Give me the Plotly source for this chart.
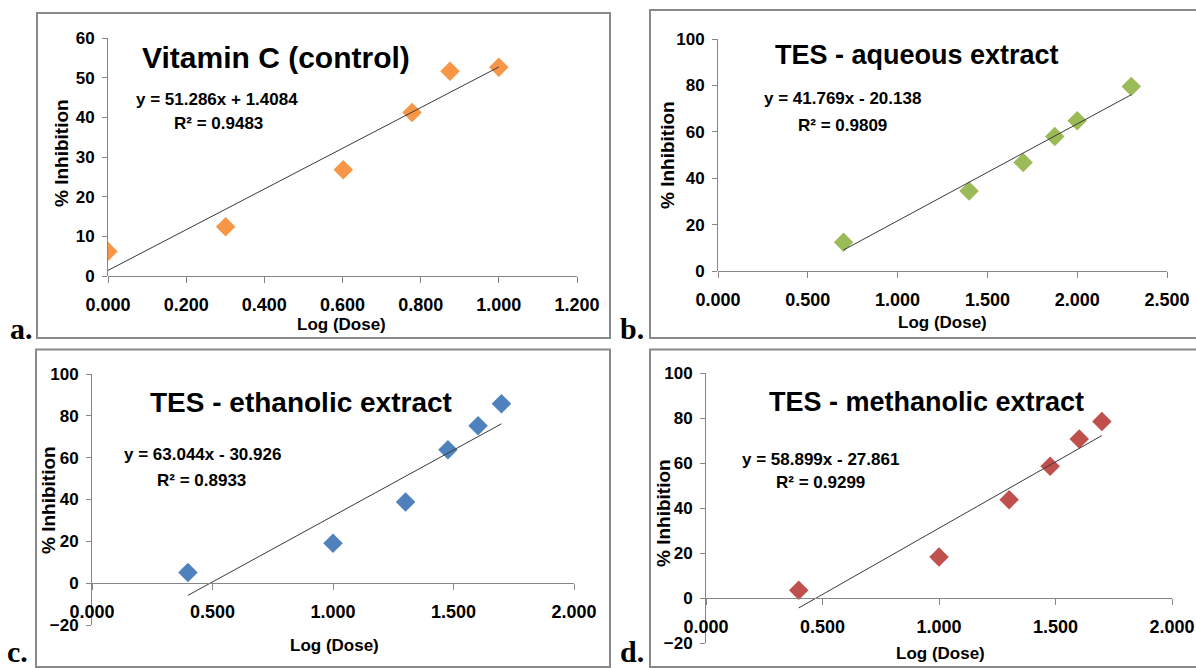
import plotly.graph_objects as go

W, H = 1196, 668

# ---------------- data ----------------
a_dose = [0.000, 0.301, 0.602, 0.778, 0.875, 1.000]
a_inhib = [6.2, 12.4, 26.8, 41.2, 51.6, 52.6]
b_dose = [0.699, 1.398, 1.699, 1.875, 2.000, 2.301]
b_inhib = [12.4, 34.5, 46.8, 58.0, 64.8, 79.5]
c_dose = [0.398, 1.000, 1.301, 1.477, 1.602, 1.699]
c_inhib = [5.1, 19.1, 38.8, 63.8, 75.3, 85.8]
d_dose = [0.398, 1.000, 1.301, 1.477, 1.602, 1.699]
d_inhib = [3.4, 18.2, 43.7, 58.5, 70.7, 78.4]

titles = ["Vitamin C (control)", "TES - aqueous extract",
          "TES - ethanolic extract", "TES - methanolic extract"]
slopes = [51.286, 41.769, 63.044, 58.899]
intercepts = [1.4084, -20.138, -30.926, -27.861]
equations = ["y = 51.286x + 1.4084", "y = 41.769x - 20.138",
             "y = 63.044x - 30.926", "y = 58.899x - 27.861"]
r2_labels = ["R² = 0.9483", "R² = 0.9809", "R² = 0.8933", "R² = 0.9299"]
panel_letters = ["a.", "b.", "c.", "d."]
colors = ["#F79646", "#9BBB59", "#4F81BD", "#C0504D"]
x_ranges = [[0, 1.2], [0, 2.5], [0, 2.0], [0, 2.0]]
x_dticks = [0.2, 0.5, 0.5, 0.5]
y_ranges = [[0, 60], [0, 100], [-20, 100], [-20, 100]]
y_dticks = [10, 20, 20, 20]
x_title = "Log (Dose)"
y_title = "% Inhibition"

doses = [a_dose, b_dose, c_dose, d_dose]
inhibs = [a_inhib, b_inhib, c_inhib, d_inhib]

# ---------------- layout geometry (pixels) ----------------
def px(x):
    return x / W

def py(y):
    return 1 - y / H

# plot area: x0, x1, y_top, y_bottom (pixels)
areas = [(108, 577, 38, 276), (718, 1167, 39, 271),
         (92, 574, 374, 625), (706, 1172, 373, 643)]
# pixel row of y=0 (for x axis placement)
zero_rows = [276, 271, 583, 598]
boxes = [(37, 610, 13, 338), (650, 1205, 10, 338),
         (36, 610, 349.5, 667), (650, 1205, 349.5, 667)]
title_pos = [(276, 58), (917, 55), (301, 402), (926, 402)]
title_sizes = [30, 27, 28, 27]
eq_pos = [(217, 100), (842, 99), (202, 455), (820, 459)]
r2_pos = [(218, 123), (842, 126), (201, 480), (820, 483)]
ytitle_pos = [(61, 153), (668, 155), (48, 500), (663, 513)]
xtitle_pos = [(342, 325), (942, 323), (334, 645), (940, 653)]
letter_pos = [(21, 328), (632, 328), (17, 651), (632, 651)]

SANS = "Liberation Sans Narrow, Arial Narrow, Liberation Sans, Arial, sans-serif"
AXIS_COLOR = "#868686"

fig = go.Figure()
layout = dict(width=W, height=H, margin=dict(l=0, r=0, t=0, b=0),
              template="none",
              paper_bgcolor="white", plot_bgcolor="white", showlegend=False)
annotations = []
shapes = []

for i in range(4):
    sfx = "" if i == 0 else str(i + 1)
    xa, ya = "x" + sfx, "y" + sfx
    x0, x1, yt, yb = areas[i]
    # markers
    fig.add_trace(go.Scatter(
        x=doses[i], y=inhibs[i], mode="markers", xaxis=xa, yaxis=ya,
        marker=dict(symbol="diamond", size=15, color=colors[i],
                    line=dict(width=0)),
        hoverinfo="x+y"))
    # linear trendline from printed coefficients
    xs = [min(doses[i]), max(doses[i])]
    ys = [slopes[i] * v + intercepts[i] for v in xs]
    fig.add_trace(go.Scatter(
        x=xs, y=ys, mode="lines", xaxis=xa, yaxis=ya,
        line=dict(color="#3a3a3a", width=1), hoverinfo="skip"))

    ydom = [py(yb), py(yt)]
    layout["xaxis" + sfx] = dict(
        domain=[px(x0), px(x1)], range=x_ranges[i], dtick=x_dticks[i],
        tick0=0, tickformat=".3f", showgrid=False, zeroline=False,
        showline=True, linecolor=AXIS_COLOR, linewidth=1,
        ticks="outside", ticklen=6, tickcolor=AXIS_COLOR,
        ticklabelstandoff=6, automargin=False,
        tickfont=dict(family=SANS, size=18, color="black", weight="bold"),
        anchor="free", position=py(zero_rows[i]), fixedrange=True)
    layout["yaxis" + sfx] = dict(
        domain=ydom, range=y_ranges[i], dtick=y_dticks[i], tick0=0,
        showgrid=False, zeroline=False, showline=True, linecolor=AXIS_COLOR,
        linewidth=1, ticks="outside", ticklen=5, tickcolor=AXIS_COLOR,
        ticklabelstandoff=4, automargin=False,
        tickfont=dict(family=SANS, size=17, color="black", weight="bold"),
        anchor=xa, fixedrange=True)

    def ann(text, pos, size, family=SANS, angle=0, **kw):
        annotations.append(dict(
            text=text, x=px(pos[0]), y=py(pos[1]), xref="paper", yref="paper",
            xanchor="center", yanchor="middle", showarrow=False, textangle=angle,
            font=dict(family=family, size=size, color="black", weight="bold"), **kw))

    ann(titles[i], title_pos[i], title_sizes[i])
    ann(equations[i], eq_pos[i], 17)
    ann(r2_labels[i], r2_pos[i], 17)
    ann(y_title, ytitle_pos[i], 19, family="Liberation Sans, Arial, sans-serif", angle=-90)
    ann(x_title, xtitle_pos[i], 17)
    ann(panel_letters[i], letter_pos[i], 30,
        family="Liberation Serif, Times New Roman, serif")

    bx0, bx1, by0, by1 = boxes[i]
    shapes.append(dict(type="rect", xref="paper", yref="paper",
                       x0=px(bx0), x1=px(bx1), y0=py(by1), y1=py(by0),
                       line=dict(color="#8a8a8a", width=2),
                       fillcolor="rgba(0,0,0,0)", layer="below"))

layout["annotations"] = annotations
layout["shapes"] = shapes
fig.update_layout(**layout)

fig.write_html("out.html", config={"displayModeBar": False},
               post_script="document.body.style.margin='0';")
